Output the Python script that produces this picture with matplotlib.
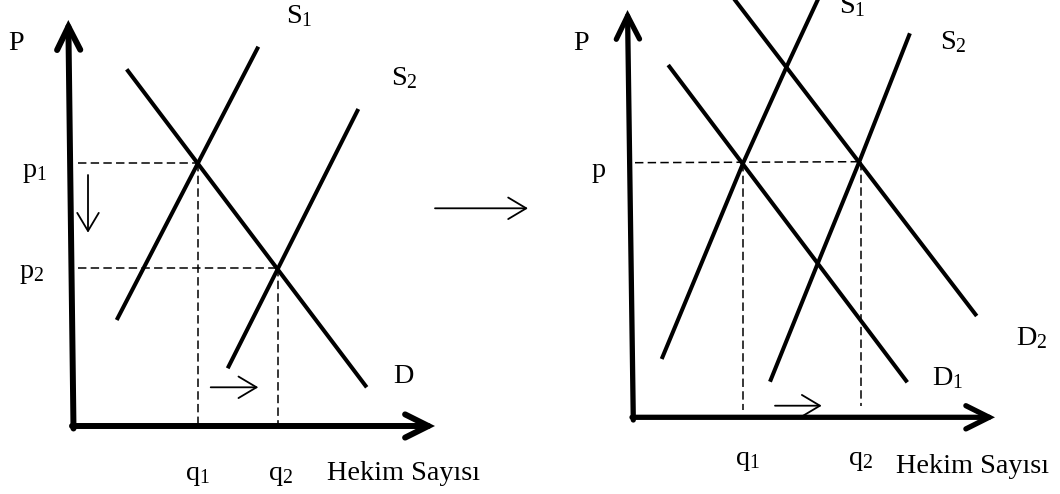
import matplotlib
matplotlib.use("Agg")
import matplotlib.pyplot as plt

plt.rcParams['font.family'] = ['Liberation Serif', 'DejaVu Serif']
plt.rcParams['mathtext.fontset'] = 'custom'
plt.rcParams['mathtext.rm'] = 'Liberation Serif'
plt.rcParams['mathtext.it'] = 'Liberation Serif:italic'

# ---------- data (image pixel coordinates, y downward) ----------
# Left panel: supply shift S1 -> S2 with fixed demand D
L_yaxis_x = [73.5, 68.3]
L_yaxis_y = [428.5, 20]
L_xaxis_x = [72, 435]
L_xaxis_y = [426, 426]
L_s1_x = [116.7, 258.3]
L_s1_y = [320, 46.7]
L_s2_x = [227.7, 358.3]
L_s2_y = [368.3, 109]
L_d_x = [126.7, 366.7]
L_d_y = [69.3, 387.3]
L_p = [163.3, 267.7]        # p1, p2 levels
L_q = [198.3, 277.7]        # q1, q2 levels
L_dash_left = 78
L_axis_y0 = 426
L_down_arrow_x = [88, 88]
L_down_arrow_y = [175, 232.7]
L_right_arrow_x = [210.7, 258.3]
L_right_arrow_y = [387.3, 387.3]

# middle arrow between panels
M_arrow_x = [435, 528]
M_arrow_y = [208.3, 208.3]

# Right panel: supply and demand both shift
R_yaxis_x = [633.3, 627.5]
R_yaxis_y = [420, 10]
R_xaxis_x = [632, 995]
R_xaxis_y = [417.3, 417.3]
R_s1_x = [661.7, 743.3, 787.4, 820]
R_s1_y = [359, 162.7, 65, -5]
R_s2_x = [770, 817.8, 859.3, 909.9]
R_s2_y = [381.7, 263.3, 161.7, 33.3]
R_d1_x = [668.2, 907.3]
R_d1_y = [65, 382.3]
R_d2_x = [731.1, 976.7]
R_d2_y = [-5, 316]
R_p = [162.7, 161.7]        # left / right end of the p dashed line
R_q = [743.3, 860.5]
R_q_bottom = [410, 406]
R_dash_left = 635
R_arrow_x = [775, 821.7]
R_arrow_y = [405.7, 405.7]

# labels: (text, x, y) with left/baseline anchoring
labels = [
    ("P", 8.5, 50),
    (r"$\mathrm{p}_1$", 22, 176.7),
    (r"$\mathrm{p}_2$", 18.6, 278.3),
    (r"$\mathrm{S}_1$", 286, 23.3),
    (r"$\mathrm{S}_2$", 391, 85),
    ("D", 393, 382.7),
    (r"$\mathrm{q}_1$", 184.6, 480),
    (r"$\mathrm{q}_2$", 267.5, 480),
    ("Hekim Sayısı", 326.8, 480),
    ("P", 573.3, 50),
    ("p", 592, 176.7),
    (r"$\mathrm{S}_1$", 838.8, 13.3),
    (r"$\mathrm{S}_2$", 939.7, 49),
    (r"$\mathrm{D}_2$", 1016, 345),
    (r"$\mathrm{D}_1$", 931.7, 385),
    (r"$\mathrm{q}_1$", 735, 465),
    (r"$\mathrm{q}_2$", 848, 465),
    ("Hekim Sayısı", 896.4, 473.3),
]

# ---------- drawing ----------
fig = plt.figure(figsize=(10.6, 4.94), dpi=100)
ax = fig.add_axes([0, 0, 1, 1])
ax.set_xlim(0, 1060)
ax.set_ylim(494, 0)
ax.axis('off')

curve_lw = 2.9
dash_kw = dict(color='black', lw=1.1, dashes=(5.5, 2.8))


def axis_arrow(xs, ys, lw):
    ax.annotate('', xy=(xs[1], ys[1]), xytext=(xs[0], ys[0]),
                arrowprops=dict(arrowstyle='->,head_length=0.44,head_width=0.22',
                                lw=lw, color='black', mutation_scale=38,
                                shrinkA=0, shrinkB=0, joinstyle='miter',
                                capstyle='round'))


def thin_arrow(xs, ys):
    ax.annotate('', xy=(xs[1], ys[1]), xytext=(xs[0], ys[0]),
                arrowprops=dict(arrowstyle='->,head_length=0.52,head_width=0.31',
                                lw=1.3, color='black', mutation_scale=25,
                                shrinkA=0, shrinkB=0))


# Left panel
ax.plot(L_s1_x, L_s1_y, color='black', lw=curve_lw, solid_capstyle='butt')
ax.plot(L_s2_x, L_s2_y, color='black', lw=curve_lw, solid_capstyle='butt')
ax.plot(L_d_x, L_d_y, color='black', lw=curve_lw, solid_capstyle='butt')
for p, q in zip(L_p, L_q):
    ax.plot([L_dash_left, q], [p, p], **dash_kw)
    ax.plot([q, q], [p, L_axis_y0], **dash_kw)
axis_arrow(L_yaxis_x, L_yaxis_y, 4.3)
axis_arrow(L_xaxis_x, L_xaxis_y, 4.3)
thin_arrow(L_down_arrow_x, L_down_arrow_y)
thin_arrow(L_right_arrow_x, L_right_arrow_y)

# middle
thin_arrow(M_arrow_x, M_arrow_y)

# Right panel
ax.plot(R_s1_x, R_s1_y, color='black', lw=curve_lw, solid_capstyle='butt')
ax.plot(R_s2_x, R_s2_y, color='black', lw=curve_lw, solid_capstyle='butt')
ax.plot(R_d1_x, R_d1_y, color='black', lw=curve_lw, solid_capstyle='butt')
ax.plot(R_d2_x, R_d2_y, color='black', lw=curve_lw, solid_capstyle='butt')
ax.plot([R_dash_left, R_q[1]], R_p, **dash_kw)
for q, p, qb in zip(R_q, R_p, R_q_bottom):
    ax.plot([q, q], [p, qb], **dash_kw)
axis_arrow(R_yaxis_x, R_yaxis_y, 3.8)
axis_arrow(R_xaxis_x, R_xaxis_y, 3.8)
thin_arrow(R_arrow_x, R_arrow_y)

for txt, x, y in labels:
    ax.text(x, y, txt, fontsize=20.3, ha='left', va='baseline', color='black')

fig.savefig('out.png', dpi=100)
